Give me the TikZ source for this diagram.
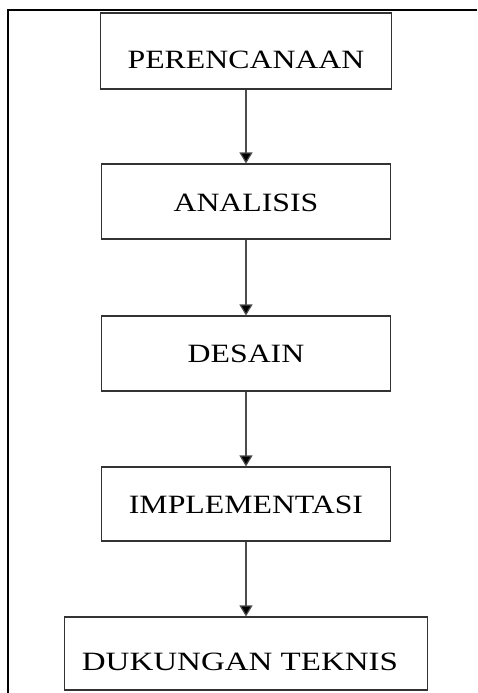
\documentclass[tikz,border=0pt]{standalone}
\usepackage{fontspec}
\setmainfont{Liberation Serif}
\usetikzlibrary{arrows.meta}
\begin{document}
\begin{tikzpicture}[x=1pt,y=1pt,
  stagebox/.style={draw=black!80,line width=1.1pt,rectangle,inner sep=0pt},
  stagetext/.style={inner sep=0pt,anchor=base,font=\fontsize{31.8}{36}\selectfont},
  flow/.style={draw=black!70,line width=1.2pt,-{Triangle[width=13pt,length=11pt,fill=black]}},
  frameline/.style={draw=black,line width=2pt}]
\useasboundingbox (0,0) rectangle (477,-693);
% outer frame (top and left)
\draw[frameline] (8,-693) -- (8,-10) -- (477,-10);
% boxes
\node[stagebox,minimum width=291pt,minimum height=76pt] (b1) at (246,-51) {};
\node[stagebox,minimum width=289pt,minimum height=75pt] (b2) at (246,-201.5) {};
\node[stagebox,minimum width=289pt,minimum height=75pt] (b3) at (246,-353.5) {};
\node[stagebox,minimum width=289pt,minimum height=74pt] (b4) at (246,-504) {};
\node[stagebox,minimum width=363pt,minimum height=73pt] (b5) at (246,-653.5) {};
% texts
\node[stagetext] (t1) at (246,-69) {\scalebox{1}[0.83]{PERENCANAAN}};
\node[stagetext] (t2) at (246,-211) {\scalebox{1}[0.83]{ANALISIS}};
\node[stagetext] (t3) at (246,-362.5) {\scalebox{1}[0.83]{DESAIN}};
\node[stagetext] (t4) at (246,-513) {\scalebox{1}[0.83]{IMPLEMENTASI}};
\node[stagetext,font=\fontsize{33}{38}\selectfont] (t5) at (240,-670) {\scalebox{1}[0.8]{DUKUNGAN TEKNIS}};
% arrows
\draw[flow] (b1.south) -- (b2.north);
\draw[flow] (b2.south) -- (b3.north);
\draw[flow] (b3.south) -- (b4.north);
\draw[flow] (b4.south) -- (b5.north);
\end{tikzpicture}
\end{document}
